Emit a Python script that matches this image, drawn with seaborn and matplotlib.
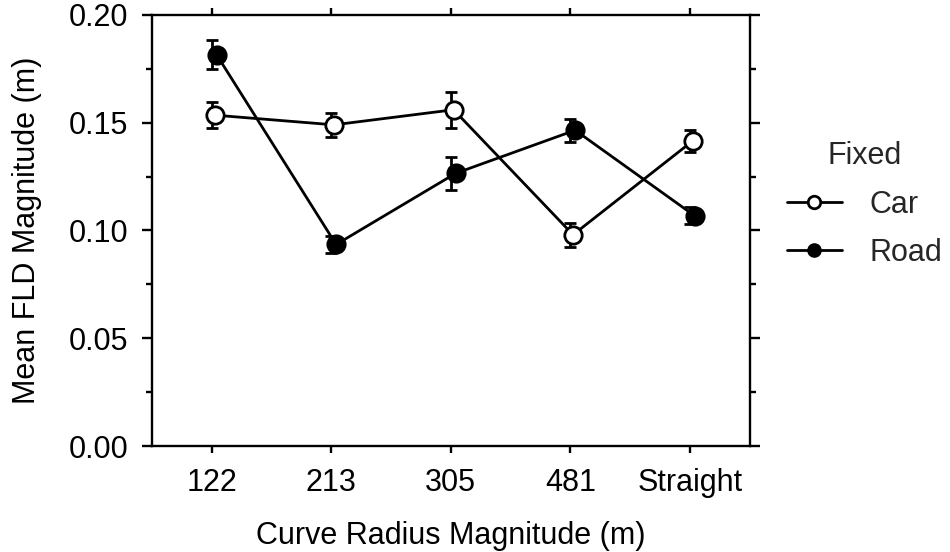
import numpy as np
import pandas as pd
import matplotlib
matplotlib.use("Agg")
import matplotlib.pyplot as plt
import matplotlib.transforms as mtransforms
from matplotlib.ticker import MultipleLocator
from matplotlib.lines import Line2D
import seaborn as sns

categories = ["122", "213", "305", "481", "Straight"]
car_mean = [0.1535, 0.149, 0.156, 0.098, 0.1415]
car_err = [0.006, 0.0055, 0.0083, 0.0056, 0.0053]
road_mean = [0.1815, 0.0935, 0.1265, 0.1465, 0.1068]
road_err = [0.0067, 0.004, 0.0078, 0.0054, 0.004]
groups = ["Car", "Road"]

df = pd.DataFrame({
    "radius": categories * 2,
    "mean": car_mean + road_mean,
    "fixed": ["Car"] * 5 + ["Road"] * 5,
})

sns.set_theme(style="ticks")
plt.rcParams["font.family"] = ["Liberation Sans", "DejaVu Sans"]

FS = 22
LW = 2.0

fig = plt.figure(figsize=(9.5, 5.52), dpi=100)
ax = fig.add_axes([0.16, 0.192, 0.629, 0.781])

sns.pointplot(data=df, x="radius", y="mean", hue="fixed", order=categories,
              hue_order=groups, palette=["black", "black"], markers=["o", "o"],
              errorbar=None, dodge=False, linewidth=LW, markersize=12.5,
              ax=ax, legend=False)

xs = np.arange(len(categories))
for m, e in [(car_mean, car_err), (road_mean, road_err)]:
    ax.errorbar(xs, m, yerr=e, fmt="none", ecolor="black",
                elinewidth=LW, capsize=4.5, capthick=LW, zorder=2)

lines = [l for l in ax.lines if len(l.get_xdata()) == len(categories)][:2]
offsets = [2.0, 3.5]
for ln, grp, off in zip(lines, groups, offsets):
    ln.set_color("black")
    ln.set_linewidth(LW)
    ln.set_markeredgecolor("black")
    ln.set_markeredgewidth(LW)
    ln.set_markerfacecolor("white" if grp == "Car" else "black")
    ln.set_zorder(4)
    ln.set_transform(ln.get_transform() + mtransforms.ScaledTranslation(off / 72, 0, fig.dpi_scale_trans))

ax.set_xlim(-0.5, 4.5)
ax.set_ylim(0, 0.20)
ax.yaxis.set_minor_locator(MultipleLocator(0.025))
ax.set_yticks([0, 0.05, 0.10, 0.15, 0.20])
ax.set_yticklabels(["0.00", "0.05", "0.10", "0.15", "0.20"])

for s in ax.spines.values():
    s.set_visible(True)
    s.set_linewidth(1.7)
    s.set_color("black")

ax.tick_params(axis="both", which="both", direction="out", color="black", width=1.7,
               labelsize=FS, labelcolor="black")
ax.tick_params(axis="y", which="major", length=7, pad=10, left=True, right=True)
ax.tick_params(axis="y", which="minor", length=4, left=True, right=True)
ax.tick_params(axis="x", which="major", length=5, pad=10.5, top=True, bottom=True)

ax.set_xlabel("Curve Radius Magnitude (m)", fontsize=FS, labelpad=17, color="black")
ax.set_ylabel("Mean FLD Magnitude (m)", fontsize=FS, labelpad=19, color="black")

handles = [
    Line2D([], [], color="black", lw=LW, marker="o", markersize=9,
           markerfacecolor="white", markeredgecolor="black", markeredgewidth=LW),
    Line2D([], [], color="black", lw=LW, marker="o", markersize=9.5,
           markerfacecolor="black", markeredgecolor="black"),
]
leg = ax.legend(handles, groups, title="Fixed", frameon=False, fontsize=FS,
                title_fontsize=FS, loc="center left", bbox_to_anchor=(1.062, 0.56),
                borderaxespad=0, borderpad=0,
                handlelength=1.8, handletextpad=0.9, labelspacing=0.6)

fig.savefig("out.png", dpi=100)
